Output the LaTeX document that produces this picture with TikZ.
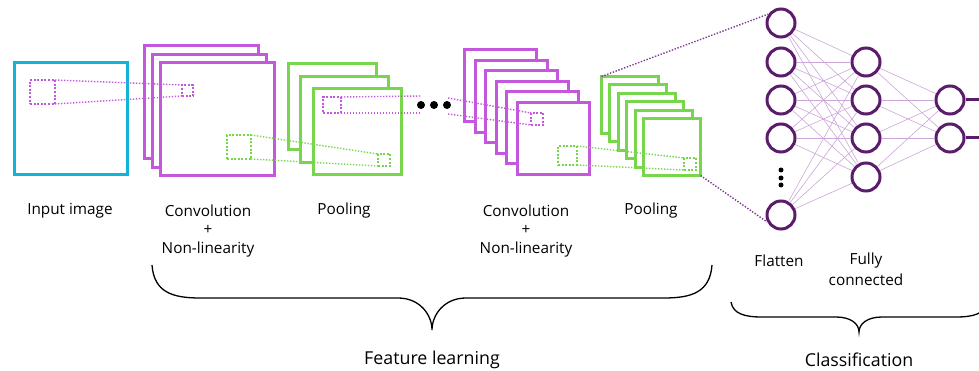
\documentclass[tikz,border=0pt]{standalone}
\usepackage{fontspec}
\setmainfont{Open Sans}
\definecolor{inblue}{HTML}{10B4D8}
\definecolor{convc}{HTML}{C458DC}
\definecolor{poolc}{HTML}{78D64C}
\definecolor{neur}{HTML}{5A1C6B}
\definecolor{linkc}{HTML}{CBA6D8}
\definecolor{flatl}{HTML}{7E3C92}
\begin{document}
\begin{tikzpicture}[x=1pt,y=-1pt,
  fmap/.style={draw=#1, line width=3pt, fill=white, inner sep=0pt, outer sep=0pt, anchor=north west},
  win/.style={draw=#1, line width=2.5pt, dash pattern=on 2pt off 1.6pt, inner sep=0pt, outer sep=0pt, anchor=north west},
  wline/.style={draw=#1, line width=1.4pt, dash pattern=on 1.4pt off 1.6pt},
  neuron/.style={circle, draw=neur, line width=3pt, fill=white, minimum size=28pt, inner sep=0pt},
  conn/.style={draw=linkc, line width=0.6pt},
  lbl/.style={font=\fontsize{15.3}{18}\selectfont, inner sep=0pt, align=center},
  biglbl/.style={font=\fontsize{17.8}{21}\selectfont, inner sep=0pt, align=center},
  bigdot/.style={circle, fill=black, minimum size=8pt, inner sep=0pt},
  smalldot/.style={circle, fill=black, minimum size=5pt, inner sep=0pt},
  brace/.style={draw=black, line width=1.3pt}
]
\useasboundingbox (0,0) rectangle (979,371);
\begin{scope}
\clip (0,0) rectangle (979,371);
% input
\node[fmap=inblue, minimum width=113pt, minimum height=112pt] (in) at (14,63) {};
% conv 1
\foreach \k in {0,1,2}{
  \node[fmap=convc, minimum width=114pt, minimum height=113pt] (ca\k) at ({144+8*\k},{46+8.3*\k}) {};
}
% pool 1
\foreach \k in {0,1,2}{
  \node[fmap=poolc, minimum width=88pt, minimum height=86pt] (pa\k) at ({288+12.5*\k},{64+12.5*\k}) {};
}
% conv 2
\foreach \k in {0,...,5}{
  \node[fmap=convc, minimum width=72pt, minimum height=72pt] (cb\k) at ({464.5+10.6*\k},{49.5+10.6*\k}) {};
}
% pool 2
\foreach \k in {0,...,5}{
  \node[fmap=poolc, minimum width=57pt, minimum height=57pt] (pb\k) at ({601.5+8.4*\k},{76.5+8.4*\k}) {};
}
% windows
\node[win=convc, minimum width=25pt, minimum height=24pt] (pin) at (30,80) {};
\node[win=convc, minimum width=11pt, minimum height=11pt] (cin) at (182,85) {};
\node[win=poolc, minimum width=24pt, minimum height=24pt] (cg) at (227,135) {};
\node[win=poolc, minimum width=12pt, minimum height=12pt] (pg) at (378,154) {};
\node[win=convc, minimum width=18pt, minimum height=16pt] (pp) at (323,97) {};
\node[win=convc, minimum width=12pt, minimum height=12pt] (cbp) at (531,113) {};
\node[win=poolc, minimum width=19pt, minimum height=19pt] (cbg) at (558,146) {};
\node[win=poolc, minimum width=12pt, minimum height=12pt] (pbg) at (684,158) {};
% window links
\draw[wline=convc] (pin.north east) -- (cin.north west);
\draw[wline=convc] (pin.south east) -- (cin.south west);
\draw[wline=poolc] (cg.north east) -- (pg.north west);
\draw[wline=poolc] (cg.south east) -- (pg.south west);
\coordinate (ea) at (421,96);
\coordinate (eb) at (421,113);
\coordinate (sa) at (448,98);
\coordinate (sb) at (448,114);
\draw[wline=convc] (pp.north east) -- (ea);
\draw[wline=convc] (pp.south east) -- (eb);
\draw[wline=convc] (sa) -- (cbp.north west);
\draw[wline=convc] (sb) -- (cbp.south west);
\draw[wline=poolc] (cbg.north east) -- (pbg.north west);
\draw[wline=poolc] (cbg.south east) -- (pbg.south west);
% dots
\node[bigdot] (d1) at (421,105) {};
\node[bigdot] (d2) at (434,105) {};
\node[bigdot] (d3) at (447,105) {};
% neurons
\node[neuron] (f1) at (781,23) {};
\node[neuron] (f2) at (781,62) {};
\node[neuron] (f3) at (781,100) {};
\node[neuron] (f4) at (781,138) {};
\node[neuron] (f5) at (781,215) {};
\node[smalldot] (v1) at (781,170) {};
\node[smalldot] (v2) at (781,178) {};
\node[smalldot] (v3) at (781,185) {};
\node[neuron] (h1) at (866,62) {};
\node[neuron] (h2) at (866,100) {};
\node[neuron] (h3) at (866,138) {};
\node[neuron] (h4) at (866,177) {};
\node[neuron] (o1) at (950,100) {};
\node[neuron] (o2) at (950,138) {};
\foreach \a in {1,...,5}{\foreach \b in {1,...,4}{\draw[conn] (f\a) -- (h\b);}}
\foreach \a in {1,...,4}{\foreach \b in {1,2}{\draw[conn] (h\a) -- (o\b);}}
\coordinate (oe1) at (985,100);
\coordinate (oe2) at (985,138);
\draw[draw=neur, line width=3pt] (o1.east) -- (oe1);
\draw[draw=neur, line width=3pt] (o2.east) -- (oe2);
\draw[wline=flatl] (pb0.north west) -- (f1.145);
\draw[wline=flatl] (pb5.south east) -- (f5.207);
% labels
\node[lbl] (t1) at (70,211) {Input image};
\node[lbl] (t2) at (208,211) {Convolution};
\node[lbl] (t2b) at (208,230) {+};
\node[lbl] (t2c) at (208,250) {Non-linearity};
\node[lbl] (t3) at (344,211) {Pooling};
\node[lbl] (t4) at (526,211) {Convolution};
\node[lbl] (t4b) at (526,230) {+};
\node[lbl] (t4c) at (526,250) {Non-linearity};
\node[lbl] (t5) at (651,211) {Pooling};
\node[lbl] (t6) at (779,261) {Flatten};
\node[lbl] (t7) at (866,261) {Fully};
\node[lbl] (t7b) at (866,280) {connected};
\node[biglbl] (t8) at (432,360) {Feature learning};
\node[biglbl] (t9) at (859,360) {Classification};
% braces
\draw[brace] (152,265) .. controls (154,292) and (172,298) .. (200,298) -- (398,298)
  .. controls (420,298) and (432,315) .. (432,330)
  .. controls (432,315) and (444,298) .. (466,298) -- (664,298)
  .. controls (692,298) and (710,292) .. (712,265);
\draw[brace] (731,302) .. controls (733,314) and (745,317) .. (762,317) -- (836,317)
  .. controls (851,317) and (859,324) .. (859,332)
  .. controls (859,324) and (867,317) .. (882,317) -- (956,317)
  .. controls (973,317) and (985,314) .. (987,302);
\end{scope}
\end{tikzpicture}
\end{document}
